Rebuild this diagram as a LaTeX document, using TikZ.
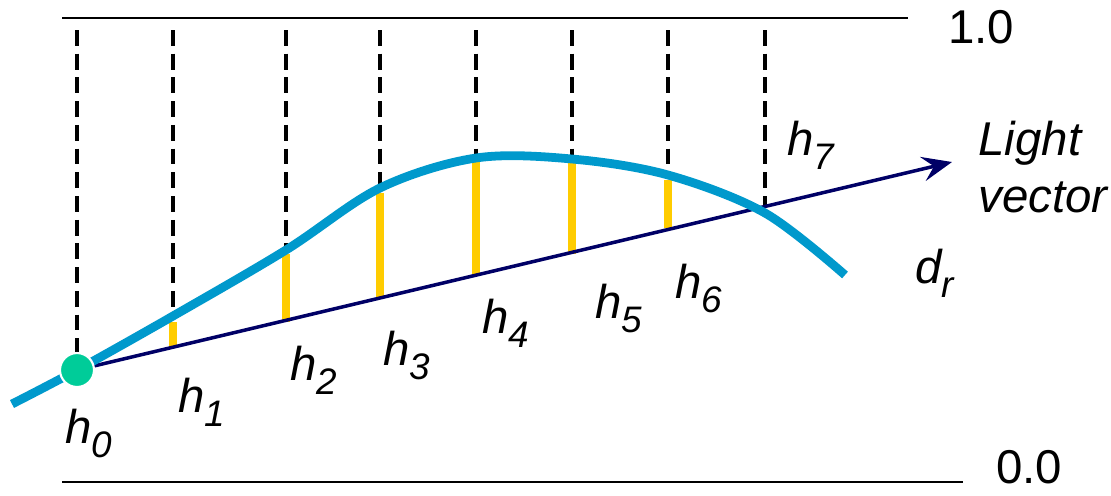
\documentclass[tikz,border=0pt]{standalone}
\usepackage{fontspec}
\setmainfont{Liberation Sans}
\usepackage{xcolor}
\usetikzlibrary{arrows.meta}
\usetikzlibrary{positioning,backgrounds}
\pgfdeclarelayer{edgelayer}
\pgfdeclarelayer{nodelayer}
\pgfsetlayers{background,edgelayer,main,nodelayer}
\definecolor{hfblue}{RGB}{0,153,204}
\definecolor{hfnavy}{RGB}{0,0,102}
\definecolor{hfgold}{RGB}{255,204,0}
\definecolor{hfgreen}{RGB}{0,204,153}
\tikzstyle{none}=[inner sep=0mm]
\tikzstyle{lbl}=[inner sep=0mm,anchor=base west,font=\fontsize{27}{30}\selectfont\itshape]
\tikzstyle{val}=[inner sep=0mm,anchor=base west,font=\fontsize{27}{30}\selectfont]
\tikzstyle{limit}=[line width=1.5pt,black]
\tikzstyle{probe}=[line width=2pt,black,dash pattern=on 9pt off 4.5pt]
\tikzstyle{gap}=[line width=4.8pt,hfgold]
\tikzstyle{lightray}=[line width=2pt,hfnavy,-{Stealth[length=17pt,width=14pt,inset=6.5pt]}]
\tikzstyle{field}=[line width=5pt,hfblue]
\tikzstyle{origin}=[shape=circle,fill=hfgreen,draw=white,line width=1.2pt,minimum size=0.68cm,inner sep=0pt]
\newcommand{\hsub}[2]{#1\raisebox{-8pt}{\fontsize{21}{21}\selectfont #2}}

\begin{document}
\begin{tikzpicture}[x=0.02cm,y=-0.02cm]
	\useasboundingbox (0,0) rectangle (1111,495);
	\begin{pgfonlayer}{nodelayer}
		\node [style=origin] (p0) at (77, 370) {};
		\node [style=val] (one) at (948, 43) {1.0};
		\node [style=val] (zero) at (996, 483) {0.0};
		\node [style=lbl] (h0) at (65, 443) {\hsub{h}{0}};
		\node [style=lbl] (h1) at (178, 412) {\hsub{h}{1}};
		\node [style=lbl] (h2) at (290, 380) {\hsub{h}{2}};
		\node [style=lbl] (h3) at (383, 365) {\hsub{h}{3}};
		\node [style=lbl] (h4) at (482, 333) {\hsub{h}{4}};
		\node [style=lbl] (h5) at (595, 318) {\hsub{h}{5}};
		\node [style=lbl] (h6) at (675, 298) {\hsub{h}{6}};
		\node [style=lbl] (h7) at (787, 155) {\hsub{h}{7}};
		\node [style=lbl] (dr) at (915, 283) {\hsub{d}{r}};
		\node [style=lbl] (light) at (978, 155) {Light};
		\node [style=lbl] (vec) at (978, 212) {vector};
	\end{pgfonlayer}
	\begin{pgfonlayer}{edgelayer}
		% range limits
		\coordinate (t0) at (62, 18);
		\coordinate (t1) at (908, 18);
		\coordinate (b0) at (62, 482);
		\coordinate (b1) at (963, 482);
		\draw [style=limit] (t0) to (t1);
		\draw [style=limit] (b0) to (b1);
		% samples
		\draw [style=probe] (77, 30) to (p0.north);
		\draw [style=probe] (173, 30) to (173, 318);
		\draw [style=probe] (286, 30) to (286, 247);
		\draw [style=probe] (380, 30) to (380, 185);
		\draw [style=probe] (476, 30) to (476, 155);
		\draw [style=probe] (572, 30) to (572, 156);
		\draw [style=probe] (668, 30) to (668, 172);
		\draw [style=probe] (765, 30) to (765, 208);
		\draw [style=gap] (173, 322) to (173, 348);
		\draw [style=gap] (286, 254) to (286, 322);
		\draw [style=gap] (380, 193) to (380, 299);
		\draw [style=gap] (476, 162) to (476, 276);
		\draw [style=gap] (572, 163) to (572, 254);
		\draw [style=gap] (668, 180) to (668, 228);
		\coordinate (tip) at (952, 162);
		\draw [style=lightray] (p0.center) to (tip);
		\draw [style=field] plot [smooth, tension=0.55] coordinates {(12,404) (77,370) (173,316) (286,250) (380,188) (476,158) (572,159) (668,175) (765,213) (845,275)};
	\end{pgfonlayer}
\end{tikzpicture}
\end{document}
